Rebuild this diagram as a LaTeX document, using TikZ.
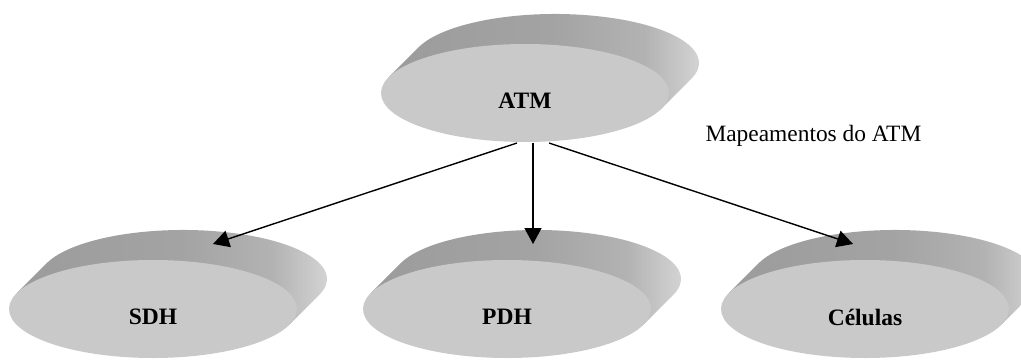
\documentclass[tikz,border=0pt]{standalone}
\usepackage{fontspec}
\setmainfont{Liberation Serif}
\usetikzlibrary{arrows.meta}

\pgfdeclarehorizontalshading{ladodisco}{100bp}{color(0bp)=(black!39); color(25bp)=(black!39); color(50bp)=(black!36); color(64bp)=(black!30); color(75bp)=(black!13); color(100bp)=(black!13)}

\tikzset{
    lado/.style={shading=ladodisco},
    frente/.style={fill=black!21},
    rotulo/.style={font=\fontsize{23.5}{26}\selectfont\bfseries},
    seta/.style={-{Triangle[length=16pt,width=17pt]},line width=1.4pt}
}

\begin{document}
\begin{tikzpicture}[x=1pt,y=1pt]
    \useasboundingbox (0,0) rectangle (1021,360);

    % discos: centro x, centro y, nome, texto
    \foreach \cx/\cy/\nome/\texto in {525/267/atm/ATM, 153/51/sdh/SDH, 507/51/pdh/PDH, 865/51/cel/Células}{
        \begin{scope}[shift={(\cx,\cy)}]
            \shade[lado](-136.3,15.8)--++(30,30) arc[start angle=161.2, end angle=-18.8, x radius=144, y radius=49]--++(-30,-30)--cycle;
            \fill[frente](0,0) ellipse[x radius=144, y radius=49];
        \end{scope}
        \node[rotulo](\nome) at (\cx,\cy-8) {\texto};
    }

    \node[anchor=base west, font=\fontsize{23.4}{26}\selectfont](mapa) at (702,219) {Mapeamentos do ATM};

    \coordinate (s1) at (517,217);
    \coordinate (s2) at (533,217);
    \coordinate (s3) at (549,217);
    \coordinate (e1) at (213,116);
    \coordinate (e2) at (533,116);
    \coordinate (e3) at (853,116);

    \draw[seta](s1)--(e1);
    \draw[seta](s2)--(e2);
    \draw[seta](s3)--(e3);
\end{tikzpicture}
\end{document}
